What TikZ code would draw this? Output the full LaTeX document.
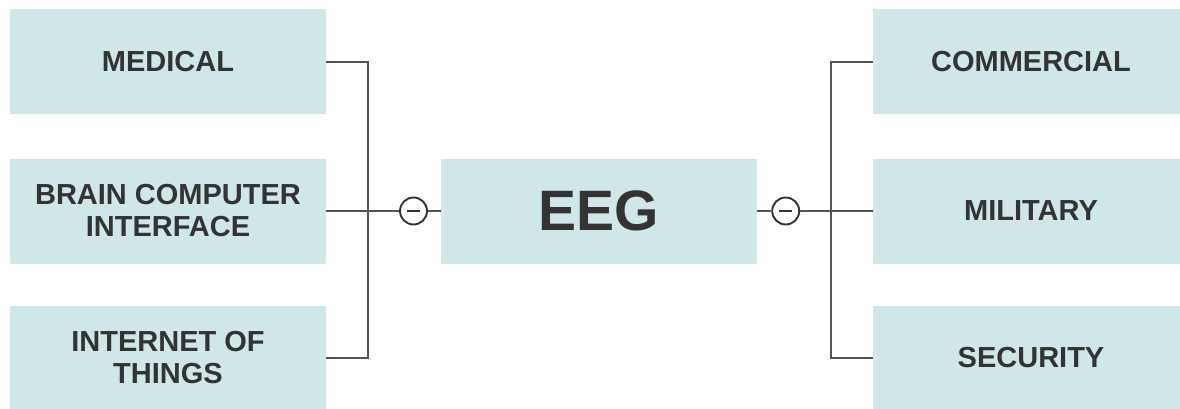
\documentclass[tikz,border=0pt]{standalone}
\usepackage{fontspec}
\setmainfont{Liberation Sans}
\usetikzlibrary{positioning}
\definecolor{cBox}{HTML}{CFE7E9}
\definecolor{cText}{HTML}{333333}
\definecolor{cLine}{HTML}{555555}

\begin{document}
\begin{tikzpicture}[
  x=1pt,y=-1pt,
  box/.style={rectangle,draw=none,fill=cBox,text=cText,align=center,inner sep=0pt,
              minimum width=316pt,minimum height=105pt,
              font=\fontsize{29}{32}\selectfont\bfseries},
  hub/.style={box,font=\fontsize{57}{62}\selectfont\bfseries},
  minus/.style={circle,draw=cText,line width=1.9pt,fill=white,inner sep=0pt,
                minimum size=27pt,text=cText},
  wire/.style={draw=cLine,line width=2pt}
]
\useasboundingbox (0,0) rectangle (1180,409);
\begin{scope}
\clip (0,0) rectangle (1180,409);

%======================= CENTRE =======================
\node[hub] (eeg) at (599,211) {EEG};

%======================= LEFT BRANCH =======================
\node[box] (med) at (168,62)  {MEDICAL};
\node[box] (bci) at (168,211) {BRAIN COMPUTER\\INTERFACE};
\node[box] (iot) at (168,358) {INTERNET OF\\THINGS};
\coordinate (lbus) at (367.5,211);
\node[minus] (lcol) at (413.5,211) {\rule[-1.3pt]{13pt}{2.6pt}};

%======================= RIGHT BRANCH =======================
\node[box] (com) at (1031,62)  {COMMERCIAL};
\node[box] (mil) at (1031,211) {MILITARY};
\node[box] (sec) at (1031,358) {SECURITY};
\coordinate (rbus) at (831,211);
\node[minus] (rcol) at (785.7,211) {\rule[-1.3pt]{13pt}{2.6pt}};

%======================= CONNECTORS =======================
\draw[wire] (med.east) -| (lbus) |- (iot.east);
\draw[wire] (bci.east) -- (lcol);
\draw[wire] (lcol) -- (eeg);
\draw[wire] (com.west) -| (rbus) |- (sec.west);
\draw[wire] (mil.west) -- (rcol);
\draw[wire] (rcol) -- (eeg);
\end{scope}

\end{tikzpicture}
\end{document}
